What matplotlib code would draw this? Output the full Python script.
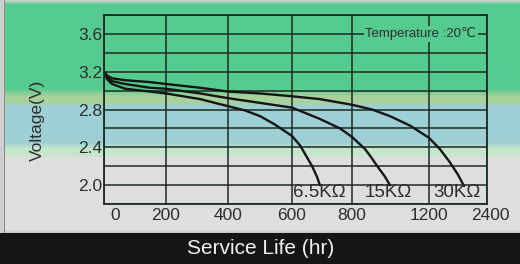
import numpy as np
import matplotlib
matplotlib.use("Agg")
import matplotlib.pyplot as plt
from matplotlib.colors import to_rgb
from matplotlib.scale import FuncScale
import matplotlib.transforms as mtransforms

# hours on the odd, uneven time axis of the original chart
tick_hours = [0, 200, 400, 600, 800, 1200, 2400]
tick_pos = [0, 62, 124, 188, 248, 325, 383]   # relative spacing of the grid columns
y_labels = [2.0, 2.4, 2.8, 3.2, 3.6]

# discharge curves (hours, volts)
hours_30k = [0, 10, 26, 68, 148, 200, 310, 400, 500, 600, 693, 800, 904, 997,
             1101, 1200, 1428, 1634, 1800, 1924]
volts_30k = [3.2, 3.16, 3.13, 3.11, 3.09, 3.07, 3.03, 2.99, 2.97, 2.94, 2.91,
             2.85, 2.80, 2.73, 2.63, 2.50, 2.38, 2.24, 2.11, 1.99]
hours_15k = [0, 10, 26, 68, 148, 200, 310, 400, 500, 600, 693, 760, 800, 868,
             894, 935, 971, 997]
volts_15k = [3.2, 3.14, 3.10, 3.07, 3.03, 3.02, 2.97, 2.92, 2.87, 2.82, 2.70,
             2.60, 2.51, 2.38, 2.31, 2.19, 2.09, 2.0]
hours_6k5 = [0, 10, 26, 68, 148, 200, 310, 400, 453, 500, 547, 600, 627, 647,
             667, 683, 693]
volts_6k5 = [3.2, 3.12, 3.07, 3.02, 2.99, 2.97, 2.91, 2.835, 2.79, 2.73, 2.64,
             2.52, 2.42, 2.31, 2.20, 2.09, 2.0]

curves = [(hours_6k5, volts_6k5), (hours_15k, volts_15k), (hours_30k, volts_30k)]
curve_names = ["6.5KΩ", "15KΩ", "30KΩ"]
label_shift = [-1, -2, -7]   # px, label centre vs. curve end

plt.rcParams['font.family'] = ['Liberation Sans', 'DejaVu Sans']

W, H = 520, 264
fig = plt.figure(figsize=(W / 100, H / 100), dpi=100)

# background bands, soft blended like the scanned original
stops = [0, 4, 88, 96, 101, 106, 142, 148, 153, 158, 229, 232]
cols = ['#c9d3cc', '#55cb8f', '#55cb8f', '#a9d29b', '#a9d29b', '#9dcfd5',
        '#9dcfd5', '#c4e6cb', '#c4e6cb', '#dedede', '#dedede', '#c8c8c8']
rgb = np.array([to_rgb(c) for c in cols])
rows = np.arange(H)
img = np.stack([np.interp(rows, stops, rgb[:, k]) for k in range(3)], axis=1)
img[233:] = to_rgb('#151515')
img = np.repeat(img[:, None, :], W, axis=1)
img[:233, :4] = to_rgb('#cfcfcf')
img[:233, 4] = to_rgb('#8a8a8a')
bg = fig.add_axes([0, 0, 1, 1], zorder=-1)
bg.imshow(img, aspect='auto', interpolation='bilinear')
bg.axis('off')

left, right, top, bottom = 104, 487, 15, 204
ax = fig.add_axes([left / W, 1 - bottom / H, (right - left) / W, (bottom - top) / H])
ax.patch.set_alpha(0)

fwd = lambda h: np.interp(h, tick_hours, tick_pos)
inv = lambda p: np.interp(p, tick_pos, tick_hours)
ax.set_xscale(FuncScale(ax.xaxis, (fwd, inv)))
ax.set_xlim(0, 2400)
ax.set_ylim(1.8, 3.8)

line_col = '#1d2a22'
text_col = '#2e2e2e'
ax.set_xticks(tick_hours)
ax.set_xticklabels([])
ax.set_yticks(y_labels)
ax.set_yticklabels([f"{v:.1f}" for v in y_labels], color=text_col, fontsize=12.5)
ax.set_yticks(np.arange(1.8, 3.81, 0.2), minor=True)
ax.tick_params(axis='both', which='both', length=0, pad=1)
ax.grid(True, which='both', color=line_col, lw=1.1)
for s in ax.spines.values():
    s.set_color(line_col)
    s.set_linewidth(1.3)

# tick labels of the time axis; first and last sit off the grid lines
offsets = {0: 11, 2400: 3}
for h in tick_hours:
    tr = ax.get_xaxis_transform() + mtransforms.ScaledTranslation(
        offsets.get(h, 0) / 100, 0, fig.dpi_scale_trans)
    ax.text(h, -0.02, str(h), transform=tr, ha='center', va='top',
            fontsize=12.5, color=text_col)

for hrs, volts in curves:
    ax.plot(hrs, volts, color='#151515', lw=1.7, solid_capstyle='round',
            solid_joinstyle='round')

for (hrs, volts), name, dx in zip(curves, curve_names, label_shift):
    tr = ax.transData + mtransforms.ScaledTranslation(dx / 100, 0, fig.dpi_scale_trans)
    ax.text(hrs[-1], 1.92, name, transform=tr, ha='center', va='center',
            fontsize=13.5, color=text_col)

ax.text(0.972, 0.9, "Temperature :20℃", transform=ax.transAxes, ha='right',
        va='center', fontsize=9.5, color=text_col,
        bbox=dict(boxstyle='square,pad=0.12', fc='#55cb8f', ec='none'))

fig.text(37 / W, 1 - 120 / H, "Voltage(V)", rotation=90, ha='center',
         va='center', fontsize=12.5, color=text_col)
fig.text(261 / W, 1 - 248 / H, "Service Life (hr)", ha='center', va='center',
         fontsize=15, color='#f0f0f0')

fig.savefig("out.png", dpi=100)
